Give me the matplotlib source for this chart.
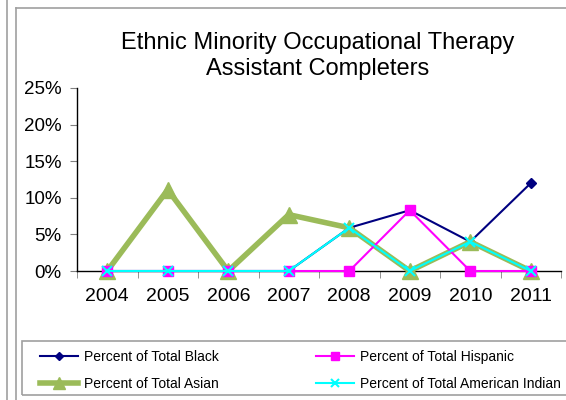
import numpy as np
import matplotlib
matplotlib.use('agg')
import matplotlib.pyplot as plt
from matplotlib.lines import Line2D
from matplotlib.patches import Rectangle

plt.rcParams['font.family'] = ['Liberation Sans', 'DejaVu Sans']

years = ['2004', '2005', '2006', '2007', '2008', '2009', '2010', '2011']
pct_black = [0, 0, 0, 0, 5.9, 8.3, 4.0, 12.0]
pct_hispanic = [0, 0, 0, 0, 0, 8.3, 0, 0]
pct_asian = [0, 11.1, 0, 7.7, 5.9, 0, 4.0, 0]
pct_am_indian = [0, 0, 0, 0, 5.9, 0, 4.0, 0]
y_ticks = [0, 5, 10, 15, 20, 25]

W, H = 566, 400
fig = plt.figure(figsize=(W / 100, H / 100), dpi=100)

# outer frames (chart area border, and a neighbouring one on the left)
fig.add_artist(Line2D([7 / W, 7 / W], [0, 1], color='#a0a0a0', lw=1.2))
fig.add_artist(Line2D([16 / W, 16 / W], [0, 1 - 8 / H], color='#a0a0a0', lw=1.2))
fig.add_artist(Line2D([16 / W, 1], [1 - 8 / H, 1 - 8 / H], color='#a0a0a0', lw=1.2))

ax = fig.add_axes([77 / W, 1 - 271 / H, 484 / W, 183 / H])
x = np.arange(len(years))

l_black, = ax.plot(x, pct_black, color='#000080', lw=1.5, marker='D', ms=5,
                   zorder=3, clip_on=False)
l_hisp, = ax.plot(x, pct_hispanic, color='#ff00ff', lw=1.5, marker='s', ms=7,
                  zorder=5, clip_on=False)
l_asian, = ax.plot(x, pct_asian, color='#9bbb59', lw=4, marker='^', ms=11,
                   zorder=4, clip_on=False)
l_ind, = ax.plot(x, pct_am_indian, color='#00ffff', lw=1.5, marker='x', ms=7,
                 mew=1.5, zorder=6, clip_on=False)

ax.set_xlim(-0.5, len(years) - 0.5)
ax.set_ylim(0, 25)
ax.set_yticks(y_ticks)
ax.set_yticklabels(['%d%%' % v for v in y_ticks], fontsize=13.5)
ax.set_xticks(x)
ax.set_xticklabels(years, fontsize=14)
ax.set_xticks(np.arange(len(years) + 1) - 0.5, minor=True)
ax.tick_params(axis='x', which='major', length=0, pad=12)
ax.tick_params(axis='x', which='minor', length=5, color='#808080', direction='out')
ax.tick_params(axis='y', length=5, color='#808080', direction='out', pad=6)
for s in ['top', 'right']:
    ax.spines[s].set_visible(False)
for s in ['left', 'bottom']:
    ax.spines[s].set_color('black')
    ax.spines[s].set_linewidth(1)

fig.text(318 / W, 1 - 56 / H, 'Ethnic Minority Occupational Therapy\nAssistant Completers',
         ha='center', va='center', fontsize=17, linespacing=1.2)

# legend box
fig.add_artist(Rectangle((22 / W, 1 - 395 / H), 600 / W, 54 / H, transform=fig.transFigure,
                         fill=False, edgecolor='#a0a0a0', lw=1.2))
leg = fig.legend([l_black, l_asian, l_hisp, l_ind],
                 ['Percent of Total Black', 'Percent of Total Asian',
                  'Percent of Total Hispanic', 'Percent of Total American Indian'],
                 ncol=2, loc='upper left', bbox_to_anchor=(40 / W, 1 - 350 / H),
                 fontsize=10, frameon=False,
                 handlelength=2.75, handletextpad=0.4, columnspacing=7.0,
                 labelspacing=0.9, borderpad=0, borderaxespad=0, markerscale=0.8)

fig.savefig('out.png', dpi=100)
